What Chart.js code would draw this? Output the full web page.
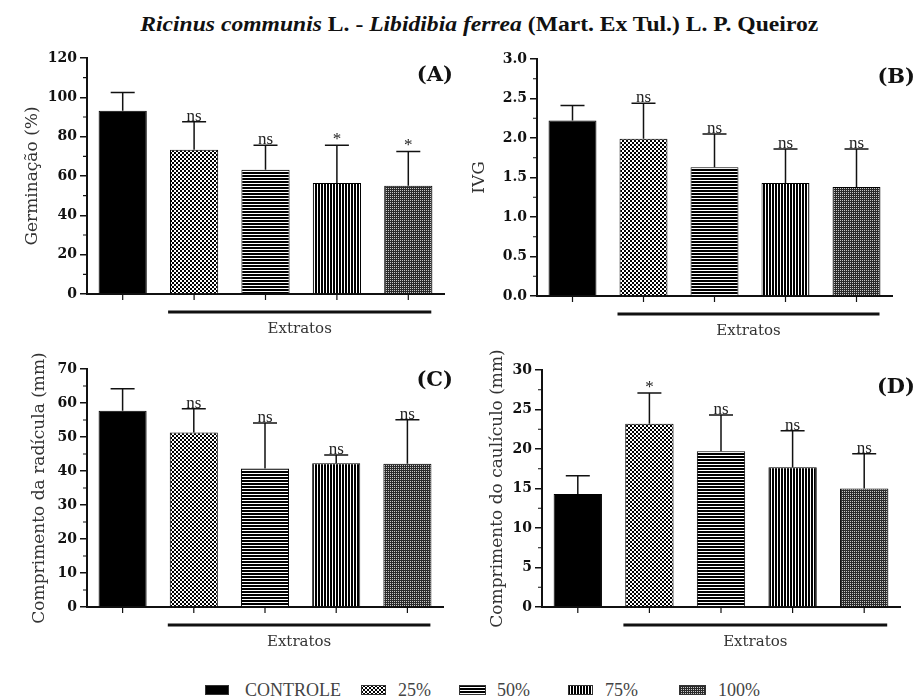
<!DOCTYPE html>
<html>
<head>
<meta charset="utf-8">
<script src="https://cdn.jsdelivr.net/npm/chart.js@4.4.1/dist/chart.umd.min.js"></script>
<style>
  body { margin: 0; background: #fff; width: 919px; height: 700px; position: relative; overflow: hidden; font-family: "Liberation Serif", serif; }
  #title { position: absolute; left: 20px; width: 919px; top: 14px; text-align: center; font-weight: bold; font-size: 20px; line-height: 20px; color: #111; }
  #title span { display: inline-block; transform: scaleX(1.18); }
  canvas.panel { position: absolute; }
  .sw { position: absolute; top: 685px; height: 10px; }
  .lg { position: absolute; top: 681px; font-size: 18px; line-height: 18px; color: #444; }
</style>
</head>
<body>
<div id="title"><span><i>Ricinus communis</i> L. - <i>Libidibia ferrea</i> (Mart. Ex Tul.) L. P. Queiroz</span></div>

<canvas id="chartA" class="panel" width="460" height="305" style="left:0;top:40px"></canvas>
<canvas id="chartB" class="panel" width="459" height="307" style="left:460px;top:40px"></canvas>
<canvas id="chartC" class="panel" width="460" height="313" style="left:0;top:345px"></canvas>
<canvas id="chartD" class="panel" width="459" height="313" style="left:460px;top:345px"></canvas>

<canvas class="sw" id="sw0" width="24" height="10" style="left:205px"></canvas>
<div class="lg" style="left:245px">CONTROLE</div>
<canvas class="sw" id="sw1" width="25" height="10" style="left:361px"></canvas>
<div class="lg" style="left:398px">25%</div>
<canvas class="sw" id="sw2" width="27" height="10" style="left:459px"></canvas>
<div class="lg" style="left:497px">50%</div>
<canvas class="sw" id="sw3" width="25" height="10" style="left:568px"></canvas>
<div class="lg" style="left:605px">75%</div>
<canvas class="sw" id="sw4" width="27" height="10" style="left:679px"></canvas>
<div class="lg" style="left:718px">100%</div>

<script>
// treatments
const groups = ['CONTROLE', '25%', '50%', '75%', '100%'];

// (A) germination %
const germinacao = [93.2, 73.4, 63.2, 56.4, 55.1];
const germinacaoErr = [9.3, 14.2, 12.4, 19.2, 17.4];
const germinacaoSig = ['', 'ns', 'ns', '*', '*'];

// (B) IVG
const ivg = [2.22, 1.99, 1.63, 1.43, 1.38];
const ivgErr = [0.19, 0.45, 0.42, 0.43, 0.48];
const ivgSig = ['', 'ns', 'ns', 'ns', 'ns'];

// (C) radicle length (mm)
const radicula = [57.7, 51.3, 40.7, 42.3, 42.1];
const radiculaErr = [6.5, 7.0, 13.4, 2.4, 13.0];
const radiculaSig = ['', 'ns', 'ns', 'ns', 'ns'];

// (D) hypocotyl length (mm)
const cauliculo = [14.3, 23.2, 19.7, 17.7, 15.0];
const cauliculoErr = [2.3, 3.9, 4.6, 4.6, 4.4];
const cauliculoSig = ['', '*', 'ns', 'ns', 'ns'];

function makePattern(kind) {
  const c = document.createElement('canvas');
  const g = c.getContext('2d');
  if (kind === 'checker') {
    c.width = 4; c.height = 4;
    g.fillStyle = '#000'; g.fillRect(0, 0, 4, 4);
    g.fillStyle = '#fff'; g.fillRect(0, 0, 2, 2); g.fillRect(2, 2, 2, 2);
  } else if (kind === 'hlines') {
    c.width = 4; c.height = 3;
    g.fillStyle = '#000'; g.fillRect(0, 0, 4, 3);
    g.fillStyle = '#fff'; g.fillRect(0, 2, 4, 1);
  } else if (kind === 'vlines') {
    c.width = 3; c.height = 4;
    g.fillStyle = '#000'; g.fillRect(0, 0, 3, 4);
    g.fillStyle = '#fff'; g.fillRect(2, 0, 1, 4);
  } else {
    c.width = 2; c.height = 2;
    g.fillStyle = '#2b2b2b'; g.fillRect(0, 0, 2, 2);
    g.fillStyle = '#c8c8c8'; g.fillRect(0, 0, 1, 1);
  }
  return g.createPattern(c, 'repeat');
}

const fills = ['#000', makePattern('checker'), makePattern('hlines'), makePattern('vlines'), makePattern('dots')];

// legend swatches
fills.forEach((f, i) => {
  const c = document.getElementById('sw' + i);
  const g = c.getContext('2d');
  g.fillStyle = f;
  g.fillRect(0, 0, c.width, c.height);
  g.strokeStyle = '#333';
  g.lineWidth = 1;
  g.strokeRect(0.5, 0.5, c.width - 1, c.height - 1);
});

function makePanel(id, values, errors, signs, yMax, yStep, yTitle, label, geo) {
  const extras = {
    id: 'extras_' + id,
    afterDatasetsDraw(chart) {
      const { ctx, chartArea, scales: { x, y } } = chart;
      ctx.save();
      // error bars + significance marks
      ctx.strokeStyle = '#111';
      ctx.lineWidth = 1.5;
      ctx.fillStyle = '#222';
      ctx.font = '17px "Liberation Serif"';
      ctx.textAlign = 'center';
      ctx.textBaseline = 'alphabetic';
      values.forEach((v, i) => {
        const cx = x.getPixelForValue(i);
        const y0 = y.getPixelForValue(v);
        const y1 = y.getPixelForValue(v + errors[i]);
        ctx.beginPath();
        ctx.moveTo(cx, y0);
        ctx.lineTo(cx, y1);
        ctx.moveTo(cx - 12, y1);
        ctx.lineTo(cx + 12, y1);
        ctx.stroke();
        if (signs[i]) ctx.fillText(signs[i], cx, y1 - 1);
      });

      // minor y ticks
      ctx.lineWidth = 1.2;
      ctx.beginPath();
      for (let v = yStep / 2; v < yMax; v += yStep) {
        const py = y.getPixelForValue(v);
        ctx.moveTo(chartArea.left - 4, py);
        ctx.lineTo(chartArea.left, py);
      }
      // x ticks
      values.forEach((v, i) => {
        const cx = x.getPixelForValue(i);
        ctx.moveTo(cx, chartArea.bottom);
        ctx.lineTo(cx, chartArea.bottom + 6);
      });
      ctx.stroke();

      // "Extratos" bracket
      const x1 = x.getPixelForValue(1) - 26;
      const x2 = x.getPixelForValue(4) + 23;
      const ly = chartArea.bottom + 18;
      ctx.lineWidth = 3;
      ctx.beginPath();
      ctx.moveTo(x1, ly);
      ctx.lineTo(x2, ly);
      ctx.stroke();
      ctx.fillStyle = '#333';
      ctx.font = '15px "DejaVu Serif"';
      ctx.textBaseline = 'middle';
      ctx.fillText('Extratos', (x1 + x2) / 2, chartArea.bottom + 35);

      // y title
      ctx.save();
      ctx.translate(geo.titleX, (chartArea.top + chartArea.bottom) / 2);
      ctx.rotate(-Math.PI / 2);
      ctx.font = '17px "DejaVu Serif"';
      ctx.fillStyle = '#333';
      ctx.fillText(yTitle, 0, 0);
      ctx.restore();

      // panel label
      ctx.font = 'bold 21px "DejaVu Serif"';
      ctx.fillStyle = '#111';
      ctx.textAlign = 'right';
      ctx.fillText(label, geo.labelX, geo.labelY);
      ctx.restore();
    }
  };

  return new Chart(document.getElementById(id), {
    type: 'bar',
    data: {
      labels: groups,
      datasets: [{
        data: values,
        backgroundColor: fills,
        borderColor: '#000',
        borderWidth: 1,
        categoryPercentage: 1,
        barPercentage: 0.675
      }]
    },
    options: {
      responsive: false,
      animation: false,
      layout: { padding: { left: 0, top: geo.padTop, right: geo.padRight, bottom: 0 } },
      plugins: { legend: { display: false }, tooltip: { enabled: false } },
      scales: {
        x: {
          ticks: { display: false },
          grid: { display: false },
          border: { display: true, color: '#111', width: 2 },
          afterFit: s => { s.height = 51; }
        },
        y: {
          min: 0,
          max: yMax,
          ticks: {
            stepSize: yStep,
            color: '#111',
            padding: 3,
            font: { family: 'DejaVu Serif', weight: 'bold', size: 14 },
            callback: v => geo.decimals ? Number(v).toFixed(1) : v
          },
          grid: { display: true, drawOnChartArea: false, drawTicks: true, tickLength: 7, color: '#111', lineWidth: 1.5 },
          border: { display: true, color: '#111', width: 2 },
          afterFit: s => { s.width = geo.yWidth; }
        }
      }
    },
    plugins: [extras]
  });
}

makePanel('chartA', germinacao, germinacaoErr, germinacaoSig, 120, 20, 'Germinação (%)', '(A)',
  { yWidth: 87, padTop: 18, padRight: 16, titleX: 33, labelX: 453, labelY: 36 });
makePanel('chartB', ivg, ivgErr, ivgSig, 3, 0.5, 'IVG', '(B)',
  { yWidth: 77, padTop: 19, padRight: 27, titleX: 20, labelX: 455, labelY: 38, decimals: true });
makePanel('chartC', radicula, radiculaErr, radiculaSig, 70, 10, 'Comprimento da radícula (mm)', '(C)',
  { yWidth: 87, padTop: 24, padRight: 17, titleX: 40, labelX: 453, labelY: 36 });
makePanel('chartD', cauliculo, cauliculoErr, cauliculoSig, 30, 5, 'Comprimento do caulículo (mm)', '(D)',
  { yWidth: 82, padTop: 25, padRight: 19, titleX: 38, labelX: 455, labelY: 43 });
</script>
</body>
</html>
